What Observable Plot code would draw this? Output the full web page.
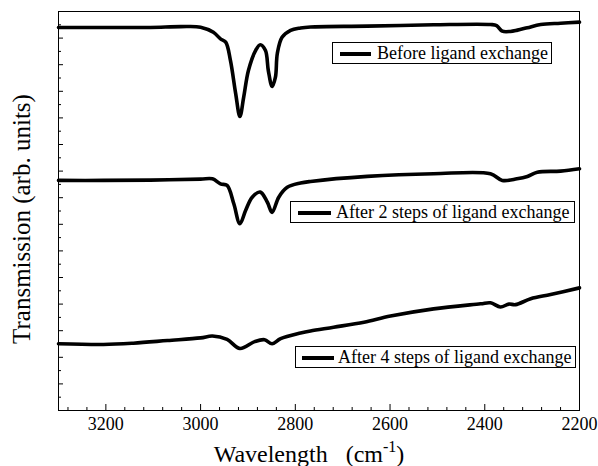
<!DOCTYPE html>
<html><head><meta charset="utf-8">
<script src="https://cdn.jsdelivr.net/npm/d3@7"></script>
<script src="https://cdn.jsdelivr.net/npm/@observablehq/plot@0.6"></script>
<style>
body{margin:0;background:#fff;}
#wrap{position:relative;width:598px;height:466px;font-family:"Liberation Serif","Tinos","DejaVu Serif","Times New Roman",serif;color:#000;}
.leg{position:absolute;border:1px solid #000;box-sizing:border-box;background:#fff;height:22px;font-size:18px;line-height:20px;white-space:nowrap;}
.leg .ln{position:absolute;top:9px;height:4px;background:#000;}
.leg .tx{position:absolute;top:0;}
#ylab{position:absolute;left:22px;top:219px;transform:translate(-50%,-50%) rotate(-90deg);font-size:25px;line-height:28px;white-space:nowrap;}
#xlab{position:absolute;left:0;width:598px;top:441px;text-align:center;font-size:24px;line-height:26px;white-space:pre;padding-left:20px;box-sizing:border-box;}
#xlab sup{font-size:16px;line-height:0;vertical-align:0;position:relative;top:-10px;}
</style></head><body><div id="wrap"></div>
<script>
// Series labels
const seriesNames = ["Before ligand exchange", "After 2 steps of ligand exchange", "After 4 steps of ligand exchange"];

// Before ligand exchange
const beforeWn = [3300, 3205, 3106, 3042, 3000, 2973, 2958, 2947, 2937, 2926, 2917, 2909, 2899, 2884, 2874, 2863, 2857, 2849, 2842, 2838, 2828, 2810, 2789, 2768, 2648, 2508, 2388, 2375, 2363, 2346, 2331, 2310, 2282, 2240, 2200];
const beforeT  = [14.40, 14.40, 14.40, 14.43, 14.41, 14.22, 13.97, 13.85, 13.16, 11.92, 11.05, 11.78, 12.78, 13.53, 13.75, 13.53, 12.78, 12.18, 12.53, 13.42, 14.03, 14.29, 14.38, 14.42, 14.45, 14.50, 14.51, 14.47, 14.26, 14.25, 14.30, 14.39, 14.51, 14.56, 14.60];

// After 2 steps
const after2Wn = [3300, 3205, 3106, 3000, 2975, 2958, 2944, 2930, 2917, 2905, 2891, 2874, 2859, 2849, 2835, 2817, 2789, 2768, 2648, 2508, 2388, 2363, 2332, 2310, 2289, 2240, 2200];
const after2T  = [8.65, 8.65, 8.66, 8.70, 8.71, 8.52, 8.46, 7.78, 7.02, 7.52, 8.02, 8.21, 7.83, 7.45, 8.02, 8.39, 8.55, 8.61, 8.80, 8.90, 8.90, 8.65, 8.71, 8.80, 8.96, 9.00, 9.09];

// After 4 steps
const after4Wn = [3300, 3205, 3142, 3070, 3000, 2975, 2944, 2917, 2886, 2865, 2849, 2831, 2789, 2768, 2719, 2655, 2599, 2508, 2409, 2388, 2367, 2349, 2335, 2303, 2261, 2200];
const after4T  = [2.51, 2.48, 2.53, 2.63, 2.73, 2.80, 2.67, 2.33, 2.59, 2.66, 2.51, 2.70, 2.91, 2.99, 3.13, 3.32, 3.55, 3.82, 4.01, 4.05, 3.89, 4.00, 3.98, 4.20, 4.36, 4.61];

// Tick values
const xMajor = [3200, 3000, 2800, 2600, 2400, 2200];
const xMinor = [3280, 3240, 3160, 3120, 3080, 3040, 2960, 2920, 2880, 2840, 2760, 2720, 2680, 2640, 2560, 2520, 2480, 2440, 2360, 2320, 2280, 2240];
const yMajor = [0,1,2,3,4,5,6,7,8,9,10,11,12,13,14,15];
const yMinor = [0.5,1.5,2.5,3.5,4.5,5.5,6.5,7.5,8.5,9.5,10.5,11.5,12.5,13.5,14.5];

const toRows = (wn, t) => wn.map((w, i) => ({wn: w, t: t[i]}));
const series = [toRows(beforeWn, beforeT), toRows(after2Wn, after2T), toRows(after4Wn, after4T)];

const serif = "'Liberation Serif', 'Tinos', 'DejaVu Serif', 'Times New Roman', serif";

const chart = Plot.plot({
  width: 598, height: 466,
  marginLeft: 58, marginRight: 19, marginTop: 11, marginBottom: 56,
  style: {fontFamily: serif, fontSize: "18px", color: "#000", background: "transparent"},
  x: {domain: [3300, 2200]},
  y: {domain: [0, 15]},
  marks: [
    Plot.axisX({ticks: xMajor, tickSize: -6, tickFormat: () => "", label: null}),
    Plot.axisX({ticks: xMinor, tickSize: -3, tickFormat: () => "", label: null}),
    Plot.axisX({ticks: xMajor, tickSize: 0, tickPadding: 7, fontSize: 18, fontFamily: serif, tickFormat: d => String(d), label: null}),
    Plot.axisY({ticks: yMajor, tickSize: -5, tickFormat: () => "", label: null}),
    Plot.axisY({ticks: yMinor, tickSize: -3, tickFormat: () => "", label: null}),
    ...series.map(rows => Plot.line(rows, {x: "wn", y: "t", curve: "catmull-rom", stroke: "#000", strokeWidth: 3.6, strokeLinejoin: "round"})),
    Plot.frame({stroke: "#000", strokeWidth: 1})
  ]
});

const wrap = document.getElementById("wrap");
wrap.appendChild(chart);

// Legends (layout only)
const legendBoxes = [
  {left: 332, top: 42, width: 220, lineL: 7, lineW: 31, textL: 44},
  {left: 290, top: 201, width: 285, lineL: 7, lineW: 33, textL: 45},
  {left: 295, top: 346, width: 281, lineL: 6, lineW: 32, textL: 42}
];
legendBoxes.forEach((b, i) => {
  const d = document.createElement("div");
  d.className = "leg";
  d.style.left = b.left + "px"; d.style.top = b.top + "px"; d.style.width = b.width + "px";
  const ln = document.createElement("div");
  ln.className = "ln"; ln.style.left = b.lineL + "px"; ln.style.width = b.lineW + "px";
  const tx = document.createElement("div");
  tx.className = "tx"; tx.style.left = b.textL + "px"; tx.textContent = seriesNames[i];
  d.appendChild(ln); d.appendChild(tx);
  wrap.appendChild(d);
});

const yl = document.createElement("div");
yl.id = "ylab"; yl.textContent = "Transmission (arb. units)";
wrap.appendChild(yl);
const xl = document.createElement("div");
xl.id = "xlab"; xl.innerHTML = "Wavelength   (cm<sup>-1</sup>)";
wrap.appendChild(xl);
</script>
</body></html>
